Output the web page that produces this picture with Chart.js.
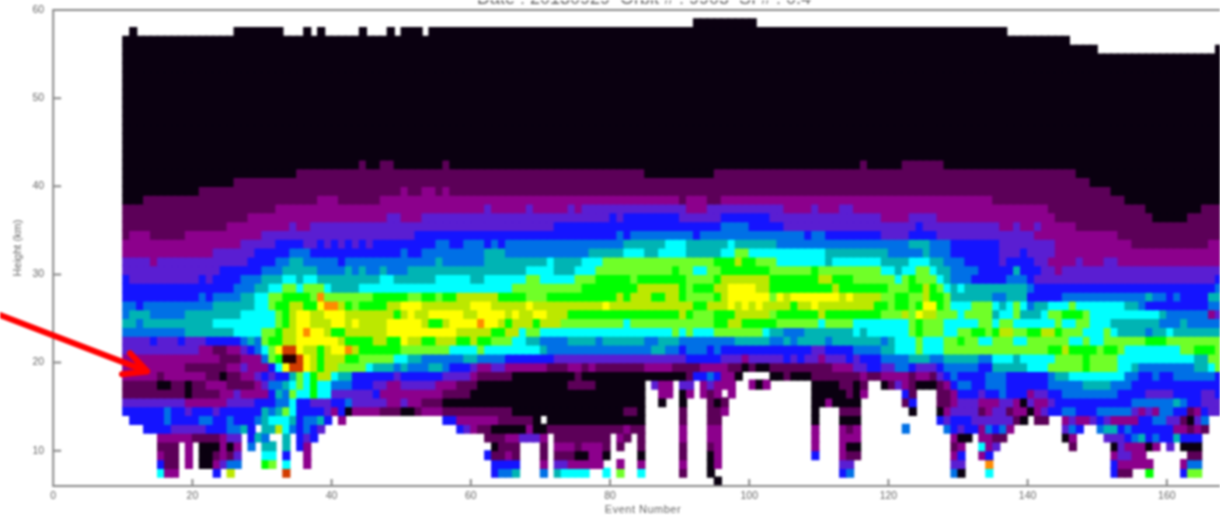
<!DOCTYPE html>
<html><head><meta charset="utf-8">
<style>html,body{margin:0;padding:0;background:#fff;overflow:hidden}canvas{display:block;filter:blur(.8px)}</style>
<script src="https://cdn.jsdelivr.net/npm/chart.js@4"></script>
</head><body><canvas id="c" width="1220" height="518"></canvas>
<script>
const titleText = "Date : 20130929  Orbit # : 9905  SI # : 0.4";
const xLabel = "Event Number";
const yLabel = "Height (km)";
const xTicks = [0,20,40,60,80,100,120,140,160];
const yTicks = [10,20,30,40,50,60];
const levelColors = {"0":"#0a0010","1":"#5c0058","2":"#8c008c","3":"#5a1ed2","4":"#1414ff","5":"#0070e6","6":"#00b4b4","7":"#00ffff","8":"#70ff28","9":"#00ff00","a":"#bce800","b":"#ffff00","c":"#ff8c00","d":"#d23c00","e":"#280000"};
const rowHeights = [58,57,56,55,54,53,52,51,50,49,48,47,46,45,44,43,42,41,40,39,38,37,36,35,34,33,32,31,30,29,28,27,26,25,24,23,22,21,20,19,18,17,16,15,14,13,12,11,10,9,8,7,6];
// each row: level:firstEvent runs, "." = no data
const rowRuns = [
"0:92 .:101",
"0:11 .:12 0:26 .:33 0:36 .:37 0:38 .:39 0:44 .:45 0:48 .:49 0:50 .:53 0:54 .:137",
"0:10 .:146",
"0:10 .:150 0:167",
"0:10","0:10","0:10","0:10","0:10","0:10","0:10","0:10","0:10","0:10","0:10","0:10",
"0:10 1:44 0:45 1:47 0:49 1:56 0:57 1:116 0:117 1:122 0:128",
"0:10 1:35 0:85 1:95 0:147",
"0:10 1:26 0:149",
"0:10 1:21 2:50 1:51 2:53 1:55 2:56 1:57 0:152",
"0:10 1:13 2:38 1:41 2:47 1:90 2:91 1:94 2:96 1:135 0:154",
"1:10 2:32 3:62 2:63 3:68 2:69 3:74 2:75 3:76 2:91 3:94 2:105 3:109 2:110 3:113 2:115 1:143 0:157 1:165",
"1:10 2:28 3:48 2:50 3:53 4:80 3:81 4:82 3:90 4:96 3:103 2:119 3:123 2:127 1:144 0:158 1:163",
"1:10 2:25 3:34 2:35 3:37 4:72 5:96 4:100 3:105 4:124 3:125 2:136 3:138 2:139 3:141 2:142 1:147",
"1:10 2:11 1:14 2:19 3:30 4:52 5:81 4:82 5:83 4:92 5:93 4:108 5:109 4:111 3:119 4:123 3:127 2:141 1:153",
"2:10 3:27 4:32 3:36 4:38 3:39 4:40 3:41 4:42 3:43 4:44 3:45 4:46 5:55 4:57 5:59 4:62 5:63 4:64 5:65 6:82 7:88 6:91 7:97 6:98 5:104 6:123 5:126 4:129 3:136 2:144 1:155 2:166",
"2:10 3:23 4:29 5:34 4:37 5:50 4:51 5:53 6:62 5:65 6:77 7:82 6:85 7:87 6:91 7:96 8:98 7:100 6:111 5:120 6:125 5:126 4:129 3:136 4:139 3:140 2:144",
"3:10 2:14 3:15 4:28 5:32 6:34 5:36 4:41 5:42 6:55 5:56 6:62 7:71 6:72 7:76 8:79 9:95 a:98 9:99 8:101 7:104 6:111 7:112 6:119 7:123 6:126 5:128 4:131 3:136 4:137 3:141 2:143 3:147 2:148 3:151 2:153",
"3:10 4:24 5:30 6:33 5:38 6:42 5:43 6:44 5:45 6:47 5:48 6:51 7:68 6:72 7:75 8:78 9:89 8:90 7:92 8:94 9:96 8:103 9:109 8:110 7:119 6:121 7:122 8:124 7:126 6:127 5:129 4:133 6:138 4:139 3:142 2:144 3:145",
"4:10 3:11 4:21 3:22 4:23 5:27 6:30 7:33 6:35 7:36 6:38 7:47 6:49 7:55 6:60 7:62 8:68 7:70 8:75 9:78 8:83 9:84 8:91 9:95 a:96 9:103 a:110 9:112 8:115 7:121 8:122 9:123 8:124 7:127 6:128 5:129 4:132 5:137 4:140 3:141 4:167",
"4:10 5:26 6:29 7:31 8:33 7:35 8:36 7:39 6:40 7:44 8:66 9:76 a:84 9:90 8:91 9:92 a:95 b:97 a:101 9:103 a:112 9:113 8:120 9:123 a:125 9:126 8:127 7:128 6:129 7:130 6:131 5:140 4:141 5:167",
"4:10 5:21 4:22 5:23 6:27 7:29 8:31 9:33 8:37 c:38 8:39 9:46 8:51 9:53 8:55 9:56 a:58 9:64 8:68 9:71 a:81 9:82 a:83 9:86 a:88 9:90 8:91 9:95 a:96 b:97 8:103 b:104 a:105 b:106 a:113 b:114 a:115 8:119 9:121 8:123 a:125 9:126 8:128 6:129 5:135 6:137 4:140 5:145 6:157 5:158 4:160 5:161 4:162 6:166",
"5:10 4:12 5:13 6:23 7:29 8:31 9:32 a:34 9:36 b:38 c:39 a:41 9:42 8:43 9:44 a:48 b:50 a:53 b:60 a:63 b:68 a:69 b:79 a:80 9:92 a:94 b:97 a:98 b:99 a:100 b:101 a:102 9:106 a:107 b:109 a:110 9:118 8:120 9:121 8:123 9:124 b:125 9:127 8:128 7:129 8:132 7:135 6:136 7:137 8:138 7:139 5:140 6:141 7:143 8:146 7:147 6:154 5:156 4:157 5:166",
"5:10 6:11 5:14 6:19 7:27 8:32 9:33 a:34 b:35 a:37 b:39 a:42 9:49 a:50 b:51 a:52 b:54 a:59 b:61 a:65 b:66 a:67 b:69 a:71 9:74 a:90 9:91 8:92 9:95 a:98 8:103 9:104 a:110 9:111 8:119 a:122 8:123 b:124 a:125 8:127 7:130 8:131 6:135 7:136 8:138 6:139 7:142 8:143 9:145 8:148 7:149 6:159 5:160 2:166 3:167",
"6:10 5:12 6:13 7:23 8:32 9:33 a:34 b:35 a:37 b:40 a:42 b:43 a:44 b:48 a:53 9:54 a:56 b:57 c:61 b:62 a:64 9:65 a:66 9:69 a:70 8:73 7:82 8:83 9:95 a:97 9:99 8:104 7:110 8:111 7:115 8:123 9:124 8:125 7:128 8:133 7:135 8:136 7:138 8:144 7:145 8:147 7:149 6:152 5:159 6:162 5:163",
"5:10 6:19 7:26 8:30 9:32 a:33 b:35 c:36 b:37 a:39 9:40 a:42 b:48 a:58 9:63 a:65 7:67 8:68 7:70 8:89 7:90 8:91 7:92 8:95 7:102 6:103 5:105 6:108 7:115 6:116 7:117 8:123 9:124 8:125 7:128 8:130 9:132 8:134 9:135 a:136 8:138 9:140 a:142 9:144 8:145 7:148 8:151 7:152 6:153 5:157 6:158 7:160 6:161",
"3:10 4:14 3:15 4:18 3:19 4:22 5:27 6:28 5:29 8:30 9:31 a:33 b:35 a:41 9:42 a:46 9:48 b:50 a:51 9:53 a:55 9:58 a:60 9:61 8:63 7:66 6:68 5:70 6:74 5:78 6:79 5:85 6:87 5:90 6:98 5:103 6:105 5:106 6:107 5:111 6:112 5:119 6:120 7:121 8:124 7:125 8:128 9:130 8:131 7:133 8:135 7:138 8:140 7:146 8:148 7:149 8:151 9:157 8:160",
"3:10 2:21 1:23 2:25 3:27 4:28 5:29 7:30 8:31 b:32 d:33 b:35 a:36 9:38 a:39 b:40 c:42 a:43 9:44 8:50 7:57 8:61 7:62 6:70 5:71 6:86 5:88 4:90 5:91 4:94 5:95 4:96 3:109 4:111 5:115 6:119 7:121 8:124 7:125 8:128 9:143 a:145 9:146 8:150 9:151 8:153 7:154 8:162 9:164 8:167",
"2:10 1:24 2:27 5:30 8:31 9:32 e:33 d:35 b:36 a:37 9:38 a:39 9:42 8:44 7:49 6:51 5:53 6:59 5:61 4:65 3:72 4:91 3:96 2:99 3:100 4:105 3:106 4:107 3:108 2:110 3:111 4:114 3:115 4:116 5:119 6:123 5:126 6:128 5:133 7:135 6:138 7:139 8:144 9:148 8:149 7:153 6:164 8:166",
"2:10 1:19 2:25 3:27 2:28 4:31 7:32 b:33 d:34 b:36 a:37 9:38 a:39 8:41 7:45 6:46 5:49 6:50 5:51 6:54 5:56 4:57 3:60 2:61 3:63 2:65 1:71 2:74 1:76 2:77 1:78 2:85 1:89 2:93 1:97 0:99 1:100 0:101 1:103 2:112 3:115 4:117 3:119 5:121 4:123 3:124 4:127 5:128 4:133 6:135 7:140 8:143 9:148 8:149 7:153 6:155 5:156 6:164 7:166 8:167",
"2:10 1:15 2:16 1:22 0:24 1:25 2:27 3:29 4:30 3:31 4:32 6:34 8:35 7:36 9:37 a:38 7:40 6:41 4:43 3:49 4:50 3:56 2:60 1:61 0:66 1:75 0:76 1:91 4:92 5:94 4:95 2:96 0:98 .:99 0:103 1:105 0:106 1:109 2:116 1:117 2:119 1:123 2:124 1:126 3:127 4:128 5:129 4:130 5:134 4:137 5:143 6:144 7:146 5:154 4:156 5:158 4:159 5:161 4:167",
"1:10 0:15 1:17 0:19 1:20 2:22 1:25 2:29 3:30 5:31 6:33 7:34 8:35 7:36 9:37 7:38 5:40 4:43 3:46 2:48 3:50 2:55 1:58 0:61 1:74 0:78 .:85 3:86 2:87 .:89 3:90 .:92 2:93 3:94 2:95 .:98 2:100 0:101 2:102 .:103 0:109 1:113 0:115 1:116 .:117 0:119 1:120 3:121 2:122 1:123 0:124 1:127 2:128 4:129 5:130 4:132 5:134 4:137 5:143 6:148 5:152 4:155",
"1:10 0:19 1:20 2:24 3:26 2:27 4:31 6:32 5:33 8:34 7:35 9:37 7:38 3:40 4:46 2:47 1:56 0:60 .:85 2:87 .:89 0:90 2:91 .:92 2:93 1:94 2:95 .:96 2:97 .:98 0:109 1:114 0:115 2:116 .:117 4:122 1:123 .:124 1:127 2:129 4:130 3:133 4:134 5:136 4:137 2:140 3:141 4:143 5:145 4:153 3:157 4:161 3:165 4:167",
"3:10 2:19 3:25 4:29 5:32 7:34 4:35 3:37 4:40 5:42 3:43 2:48 3:50 2:51 1:53 0:56 .:85 0:87 .:88 0:90 .:91 1:94 0:95 1:96 .:97 0:109 2:111 0:112 .:116 1:122 4:123 .:124 1:127 2:129 3:130 2:133 3:136 2:138 0:139 3:140 2:141 3:143 4:144 5:155 6:161 5:162 4:163 3:165",
"4:10 5:16 4:17 3:19 4:20 3:23 4:24 6:30 5:31 6:32 8:33 7:34 4:35 3:39 2:40 4:41 0:42 2:43 1:47 0:50 1:52 2:53 1:56 0:66 1:82 0:84 .:85 1:90 .:91 1:94 2:96 .:97 0:109 .:110 1:113 .:116 0:123 .:124 0:127 2:128 3:129 1:133 2:134 3:135 1:137 2:138 0:140 2:141 3:142 4:143 5:145 4:147 5:150 3:155 2:156 3:157 2:158 5:159 4:161 1:163 2:164 4:165 3:166",
"4:11 5:16 4:17 5:21 4:23 5:25 4:26 5:29 6:30 7:31 6:34 4:35 5:36 6:38 4:39 .:40 2:41 .:42 4:56 2:58 1:64 0:69 .:70 0:71 .:85 1:90 .:91 1:94 .:96 0:109 .:110 0:113 .:116 4:127 3:128 4:129 3:132 1:138 0:139 .:140 1:141 .:143 2:145 3:146 2:147 3:149 4:150 3:151 2:152 4:156 5:158 3:160 1:162 0:163 3:164 5:165 .:166",
"4:13 3:17 4:22 5:25 6:27 4:28 .:29 6:30 a:32 7:33 5:34 4:35 5:36 4:37 3:38 .:39 4:58 3:59 2:60 1:61 0:63 2:68 0:69 1:71 2:82 1:83 .:85 2:90 .:91 2:94 .:96 2:109 .:110 2:113 1:114 2:115 .:116 5:122 .:123 5:128 4:129 3:130 4:131 2:133 5:134 4:135 5:136 2:137 .:138 3:145 5:146 4:147 .:148 5:150 6:151 4:153 5:154 4:155 2:161 1:163 2:164 1:165 .:166",
"2:15 1:20 2:24 3:25 .:27 4:28 6:29 5:30 .:31 6:33 .:34 4:35 3:36 4:37 .:38 1:62 2:65 3:67 2:70 .:71 1:72 .:80 2:81 1:82 .:83 1:84 .:85 2:90 .:91 2:94 .:96 2:109 .:110 2:113 .:116 2:129 0:130 .:132 2:133 1:135 .:137 0:145 2:146 .:147 3:151 4:154 5:155 6:156 4:157 5:158 4:159 6:161 4:162 .:165",
"1:15 .:18 2:19 .:20 0:21 2:24 0:25 2:26 .:27 5:28 .:29 6:30 .:32 6:33 .:34 4:35 2:36 .:37 0:63 1:64 .:67 1:70 .:71 2:72 1:75 2:76 1:79 .:80 1:81 .:82 1:84 .:85 1:90 .:91 1:94 2:95 .:96 2:109 .:110 2:113 0:114 .:116 1:129 2:130 .:131 7:133 2:134 3:135 .:136 1:146 .:147 0:152 3:153 2:154 0:157 2:158 .:159 3:160 .:161 0:162 .:165",
"2:15 1:16 .:18 2:19 .:20 0:21 1:23 2:24 1:25 3:26 .:27 7:30 .:32 4:33 .:34 2:36 .:37 4:62 1:63 2:65 1:66 .:67 1:70 .:71 1:72 0:75 2:77 0:79 .:80 0:84 .:85 1:90 .:91 0:94 2:95 .:96 4:109 .:110 2:113 1:114 .:116 2:129 4:130 .:131 2:133 4:134 .:135 2:152 3:153 2:155 .:157 1:163 .:165",
"4:15 1:16 .:18 2:19 .:20 0:21 2:23 3:24 5:25 .:27 9:30 8:31 .:32 7:33 .:34 2:36 .:37 4:63 .:67 2:70 .:71 3:72 2:74 .:79 2:81 .:82 2:84 .:85 2:90 .:91 0:94 2:95 .:96 3:113 .:115 3:129 .:131 c:134 .:135 4:152 2:153 .:158 2:162 5:163 .:165",
"7:15 2:16 .:18 4:23 .:24 a:25 .:26 d:33 .:34 4:63 5:64 6:66 .:67 5:70 .:71 6:72 7:73 .:77 7:79 .:80 8:81 .:82 7:84 .:85 1:90 .:91 0:94 .:95 4:113 5:114 .:115 5:129 0:130 .:131 7:134 .:135 4:152 1:153 .:155 9:157 .:158 4:162 8:163 .:165",
"0:95 .:96"
];
const arrowShaftEvent = [-7.64, 13.5];
const arrowShaftHeight = [25.4, 19.0];
const arrowHeadEvent = [11.03, 13.5, 9.88];
const arrowHeadHeight = [21.07, 19.0, 18.68];

const lastEvent = 168;
function expandRow(runs){
  const out = [];
  const t = runs.split(" ").map(s=>s.split(":"));
  t.forEach((p,i)=>{
    const end = i+1<t.length ? +t[i+1][1] : lastEvent;
    for(let e=+p[1]; e<end; e++) if(p[0]!==".") out.push({e, c:p[0]});
  });
  return out;
}
const datasets = rowRuns.map((runs,i)=>{
  const cells = expandRow(runs), h = rowHeights[i];
  return {
    data: cells.map(k=>({x:k.e+0.5, y:[h,h+1]})),
    backgroundColor: cells.map(k=>levelColors[k.c]),
    borderWidth:0, barThickness:7, grouped:false, inflateAmount:0.6
  };
});
const GRAY="#8a8a8a", TXT="#666";
const FONT="'Liberation Sans', Arial, sans-serif";
const decor = {
  id:"decor",
  afterDatasetsDraw(ch){
    const {ctx,chartArea:a,scales:{x,y}} = ch;
    ctx.save();
    // frame and inward tick marks
    ctx.strokeStyle=GRAY; ctx.lineWidth=2;
    ctx.beginPath();
    ctx.moveTo(a.right+2,a.top); ctx.lineTo(a.left,a.top); ctx.lineTo(a.left,a.bottom); ctx.lineTo(a.right+2,a.bottom);
    xTicks.forEach(v=>{const p=x.getPixelForValue(v); ctx.moveTo(p,a.bottom); ctx.lineTo(p,a.bottom-7);});
    yTicks.forEach(v=>{const p=y.getPixelForValue(v); ctx.moveTo(a.left,p); ctx.lineTo(a.left+8,p);});
    ctx.stroke();
    // clipped title above the frame
    ctx.fillStyle=TXT; ctx.font="18px "+FONT;
    ctx.textAlign="center"; ctx.textBaseline="alphabetic";
    ctx.fillText(titleText,644,4);
    // x axis label
    ctx.font="11px "+FONT; ctx.letterSpacing="0.5px";
    ctx.fillText(xLabel,643,513);
    ctx.letterSpacing="0px";
    // red arrow
    ctx.strokeStyle="#ff0000"; ctx.lineWidth=6; ctx.lineJoin="round"; ctx.lineCap="round";
    ctx.beginPath();
    arrowShaftEvent.forEach((e,i)=>{const px=x.getPixelForValue(e),py=y.getPixelForValue(arrowShaftHeight[i]); i?ctx.lineTo(px,py):ctx.moveTo(px,py);});
    arrowHeadEvent.forEach((e,i)=>{const px=x.getPixelForValue(e),py=y.getPixelForValue(arrowHeadHeight[i]); i?ctx.lineTo(px,py):ctx.moveTo(px,py);});
    ctx.stroke();
    ctx.restore();
  }
};
new Chart(document.getElementById("c"),{
  type:"bar",
  data:{datasets},
  plugins:[decor],
  options:{
    responsive:false, animation:false, events:[],
    layout:{padding:0},
    plugins:{legend:{display:false},tooltip:{enabled:false},title:{display:false}},
    scales:{
      x:{type:"linear",min:0,max:167.64,offset:false,
        grid:{display:false,drawTicks:false},border:{display:false},
        afterFit(s){s.height=32;},
        afterBuildTicks(s){s.ticks=xTicks.map(value=>({value}));},
        ticks:{padding:4,color:TXT,maxRotation:0,font:{size:10.5,family:FONT}}},
      y:{type:"linear",min:6,max:60,
        grid:{display:false,drawTicks:false},border:{display:false},
        afterFit(s){s.width=53.2;s.paddingTop=10;s.paddingBottom=0;},
        afterBuildTicks(s){s.ticks=yTicks.map(value=>({value}));},
        ticks:{padding:9,color:TXT,font:{size:10.5,family:FONT}},
        title:{display:true,text:yLabel,color:TXT,padding:{top:11,bottom:0},font:{size:11,family:FONT}}}
    }
  }
});
</script></body></html>
